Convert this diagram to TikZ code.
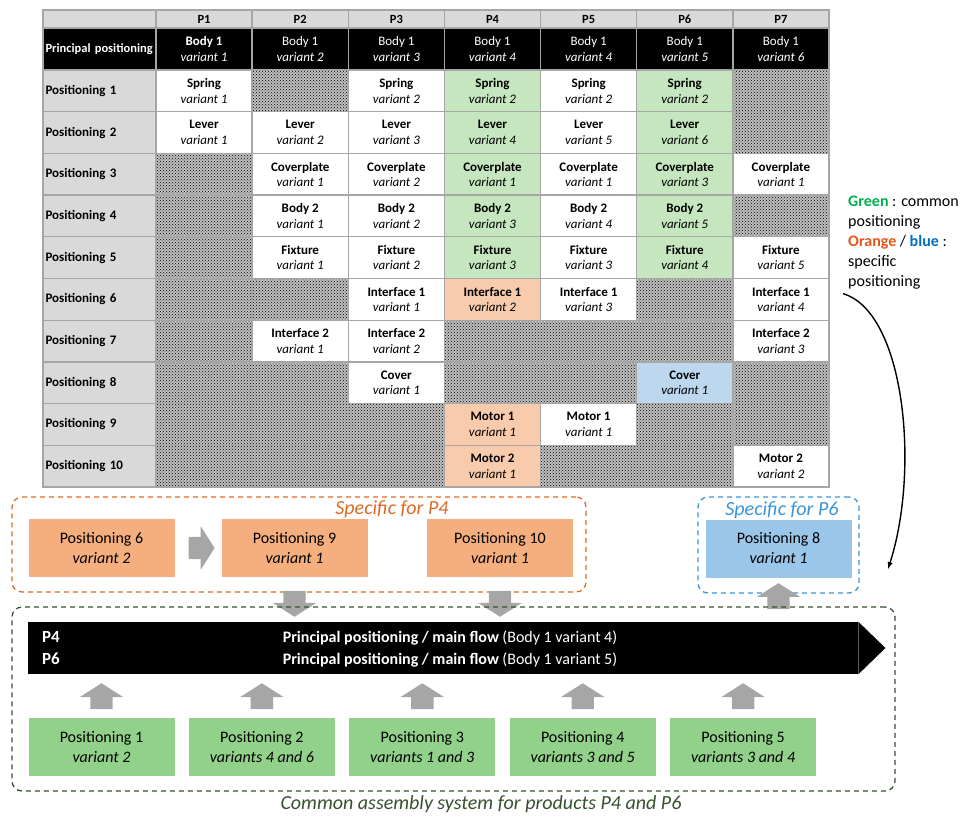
\documentclass[tikz,border=0pt]{standalone}
\usepackage{fontspec}
\setmainfont{Carlito}
\usetikzlibrary{positioning,calc,patterns,shapes.arrows,fit}

\definecolor{cellgreen}{HTML}{C6E6BF}
\definecolor{cellorange}{HTML}{F8CBAD}
\definecolor{cellblue}{HTML}{BDD7EE}
\definecolor{boxgreen}{HTML}{92D18A}
\definecolor{boxorange}{HTML}{F5AE7E}
\definecolor{boxblue}{HTML}{9AC6EA}
\definecolor{gridgray}{HTML}{A6A6A6}
\definecolor{headgray}{HTML}{D9D9D9}
\definecolor{arrowgray}{HTML}{A6A6A6}
\definecolor{keygreen}{HTML}{00B050}
\definecolor{keyorange}{HTML}{E2571C}
\definecolor{keyblue}{HTML}{0070C0}
\definecolor{groupp4}{HTML}{DD6A24}
\definecolor{groupp6}{HTML}{3A95D6}
\definecolor{groupall}{HTML}{36512E}

\newcommand{\vcell}[2]{\textbf{#1}\\\textit{variant #2}}

\begin{document}
\begin{tikzpicture}[
	x=1pt, y=-1pt,
	cell/.style   = {draw=gridgray, line width=1.3pt, minimum width=96.14pt, minimum height=41.7pt, inner sep=0pt, align=center, font=\fontsize{13}{15.5}\selectfont},
	hatch/.style  = {cell, preaction={fill=gray!50}, pattern=crosshatch dots, pattern color=black},
	lab/.style    = {cell, fill=headgray, minimum width=113pt, text width=108pt, align=left, font=\fontsize{13}{15.5}\selectfont\bfseries},
	head/.style   = {cell, fill=headgray, minimum height=18pt, font=\fontsize{12.5}{15}\selectfont\bfseries},
	prin/.style   = {cell, fill=black, text=white, minimum height=42pt},
	spec/.style   = {minimum width=146pt, minimum height=58pt, inner sep=0pt, align=center, font=\fontsize{16}{20}\selectfont},
	p4box/.style  = {spec, fill=boxorange},
	p6box/.style  = {spec, fill=boxblue},
	combox/.style = {spec, fill=boxgreen},
	garrow/.style = {single arrow, fill=arrowgray, inner xsep=0pt, inner ysep=11pt, minimum height=26pt, single arrow head extend=10.5pt, single arrow tip angle=115, single arrow head indent=0pt},
	grp/.style    = {draw, dash pattern=on 5pt off 4pt, line width=1.3pt, rounded corners=10pt, inner sep=0pt},
	grptxt/.style = {font=\fontsize{20}{24}\selectfont\itshape},
	bartxt/.style = {text=white, align=center, inner sep=0pt},
	key/.style    = {align=left, inner sep=0pt, font=\fontsize{16}{20}\selectfont},
	>=latex]

	\useasboundingbox (0,0) rectangle (966,817);

	% Table header
	\node[head, minimum width=113pt] (h0) at (99.5,19) {};
	\foreach \p in {1,...,7}
	\node[head] (h\p) at ({156+96.14*(\p-0.5)},19) {P\p};

	% Principal positioning row
	\node[lab, fill=black, text=white, minimum height=42pt, font=\fontsize{12.5}{15}\selectfont\bfseries] (l0) at (99.5,49) {\mbox{Principal positioning}};
	\foreach \v [count=\c] in {1,2,3,4,4,5,6}
	\node[prin] (b\c) at ({156+96.14*(\c-0.5)},49) {\ifnum\c=1 \textbf{Body 1}\else Body 1\fi\\\textit{variant \v}};

	% Row labels
	\foreach \r in {1,...,10}
	\node[lab] (l\r) at (99.5,{70+41.7*(\r-0.5)}) {Positioning \r};

	% Empty (hatched) cells
	\foreach \c/\r in {2/1, 7/1, 7/2, 1/3, 1/4, 7/4, 1/5, 1/6, 2/6, 6/6,
		1/7, 4/7, 5/7, 6/7, 1/8, 2/8, 4/8, 5/8, 7/8,
		1/9, 2/9, 3/9, 6/9, 7/9, 1/10, 2/10, 3/10, 5/10, 6/10}
	\node[hatch] (c\r-\c) at ({156+96.14*(\c-0.5)},{70+41.7*(\r-0.5)}) {};

	% Cells with a part and its variant
	\foreach \c/\r/\f/\t/\v in {
		1/1/white/Spring/1, 3/1/white/Spring/2, 4/1/cellgreen/Spring/2, 5/1/white/Spring/2, 6/1/cellgreen/Spring/2,
		1/2/white/Lever/1, 2/2/white/Lever/2, 3/2/white/Lever/3, 4/2/cellgreen/Lever/4, 5/2/white/Lever/5, 6/2/cellgreen/Lever/6,
		2/3/white/Coverplate/1, 3/3/white/Coverplate/2, 4/3/cellgreen/Coverplate/1, 5/3/white/Coverplate/1, 6/3/cellgreen/Coverplate/3, 7/3/white/Coverplate/1,
		2/4/white/Body 2/1, 3/4/white/Body 2/2, 4/4/cellgreen/Body 2/3, 5/4/white/Body 2/4, 6/4/cellgreen/Body 2/5,
		2/5/white/Fixture/1, 3/5/white/Fixture/2, 4/5/cellgreen/Fixture/3, 5/5/white/Fixture/3, 6/5/cellgreen/Fixture/4, 7/5/white/Fixture/5,
		3/6/white/Interface 1/1, 4/6/cellorange/Interface 1/2, 5/6/white/Interface 1/3, 7/6/white/Interface 1/4,
		2/7/white/Interface 2/1, 3/7/white/Interface 2/2, 7/7/white/Interface 2/3,
		3/8/white/Cover/1, 6/8/cellblue/Cover/1,
		4/9/cellorange/Motor 1/1, 5/9/white/Motor 1/1,
		4/10/cellorange/Motor 2/1, 7/10/white/Motor 2/2}
	\node[cell, fill=\f] (c\r-\c) at ({156+96.14*(\c-0.5)},{70+41.7*(\r-0.5)}) {\vcell{\t}{\v}};

	% Legend and its arrow
	\node[key, anchor=north west] (key) at (848,196) {\textcolor{keygreen}{\textbf{Green}} : common\\positioning\\\textcolor{keyorange}{\textbf{Orange}} / \textcolor{keyblue}{\textbf{blue}} :\\specific\\positioning};
	\coordinate (kend) at (888,569);
	\draw[->, line width=1.4pt] ($(key.south west)+(-5,4)$) .. controls (905,312) and (920,470) .. (kend);

	% Specific for P4
	\node[grp, draw=groupp4, fit={(12,497) (586,592)}] (g4) {};
	\node[grptxt, text=groupp4] (t4) at (392,509) {Specific for P4};
	\node[p4box] (s6) at (101.5,548) {Positioning 6\\\textit{variant 2}};
	\node[p4box] (s9) at (294.5,548) {Positioning 9\\\textit{variant 1}};
	\node[p4box] (s10) at (500,548) {Positioning 10\\\textit{variant 1}};
	\node[garrow] (a69) at ($(s6.east)!0.5!(s9.west)$) {};
	\node[garrow, rotate=-90] (d9) at ($(s9.south)+(0,23)$) {};
	\node[garrow, rotate=-90] (d10) at ($(s10.south)+(0,23)$) {};

	% Specific for P6
	\node[grp, draw=groupp6, fit={(698,497) (859,593)}] (g6) {};
	\node[grptxt, text=groupp6] (t6) at (782,510) {Specific for P6};
	\node[p6box] (s8) at (778.5,548.5) {Positioning 8\\\textit{variant 1}};
	\node[garrow, rotate=90] (u8) at ($(s8.south)+(0,22)$) {};

	% Common assembly system
	\node[grp, draw=groupall, fit={(12,607) (895,791)}] (gall) {};
	\node[grptxt, text=groupall] (tall) at (481,804) {Common assembly system for products P4 and P6};
	\node[fill=black, minimum width=830pt, minimum height=52pt, inner sep=0pt, anchor=west] (bar) at (28,648) {};
	\fill[black] (bar.north east) -- ($(bar.east)+(27,0)$) -- (bar.south east) -- cycle;
	\node[bartxt, anchor=west, font=\fontsize{17}{22}\selectfont\bfseries, align=left] (pp) at ($(bar.west)+(14,0)$) {P4\\P6};
	\node[bartxt, font=\fontsize{16}{22}\selectfont] (flow) at (450,649) {\textbf{Principal positioning / main flow} (Body 1 variant 4)\\\textbf{Principal positioning / main flow} (Body 1 variant 5)};

	\foreach \n/\v [count=\i] in {1/variant 2, 2/variants 4 and 6, 3/variants 1 and 3, 4/variants 3 and 5, 5/variants 3 and 4}
	{
		\node[combox] (g\n) at ({101.5+160.4*(\i-1)},747) {Positioning \n\\\textit{\v}};
		\node[garrow, rotate=90] (u\n) at ($(g\n.north)+(0,-18)$) {};
	}

\end{tikzpicture}
\end{document}
